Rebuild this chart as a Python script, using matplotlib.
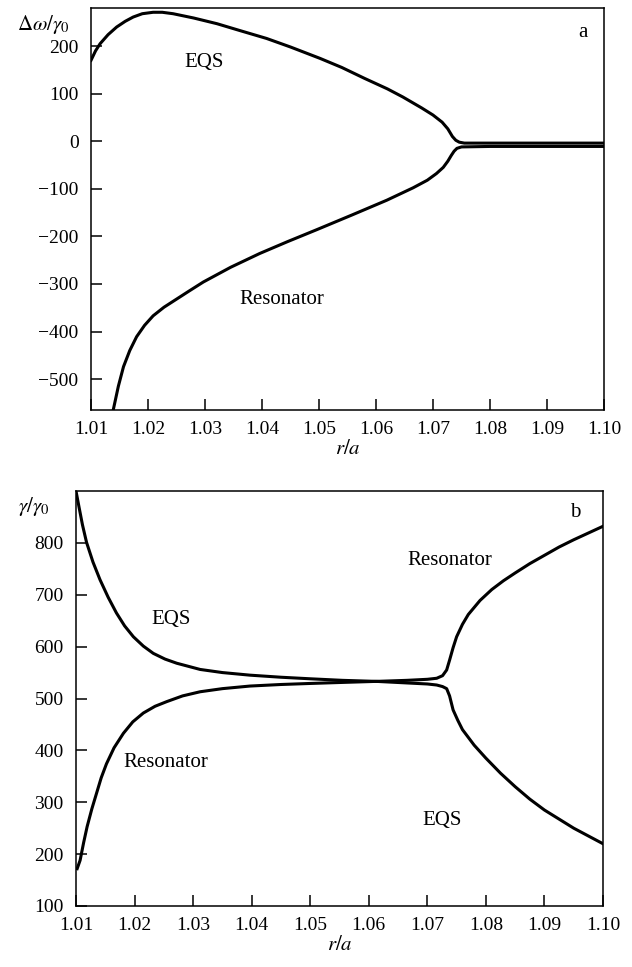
import matplotlib

matplotlib.use("Agg")
import matplotlib.pyplot as plt
from matplotlib.ticker import FormatStrFormatter

plt.rcParams["font.family"] = ["Liberation Serif", "DejaVu Serif"]
plt.rcParams["mathtext.fontset"] = "stix"

# (a) frequency shift of the two coupled modes
eqs_a_x = [1.0100, 1.0108, 1.0116, 1.0130, 1.0145, 1.0160, 1.0174, 1.0190,
           1.0209, 1.0225, 1.0244, 1.0280, 1.0321, 1.0360, 1.0408, 1.0450,
           1.0502, 1.0540, 1.0580, 1.0620, 1.0647, 1.0680, 1.0700, 1.0716,
           1.0726, 1.0734, 1.0740, 1.0746, 1.0755, 1.0800, 1.1000]
eqs_a_y = [170, 190, 205, 224, 240, 252, 261, 268,
           271, 271, 268, 259, 247, 233, 216, 198,
           174, 155, 132, 110, 93, 70, 55, 40,
           26, 10, 2, -2, -4, -4, -4]
res_a_x = [1.0135, 1.0139, 1.0148, 1.0157, 1.0168, 1.0180, 1.0194, 1.0209,
           1.0228, 1.0250, 1.0272, 1.0297, 1.0345, 1.0396, 1.0445, 1.0496,
           1.0558, 1.0619, 1.0665, 1.0690, 1.0706, 1.0718, 1.0726, 1.0732,
           1.0737, 1.0742, 1.0750, 1.0800, 1.1000]
res_a_y = [-600, -565, -515, -474, -440, -411, -387, -367,
           -349, -332, -315, -296, -265, -236, -211, -186,
           -155, -124, -98, -82, -68, -55, -42, -30,
           -21, -15, -12, -11, -11]

# (b) damping of the two coupled modes
eqs_b_x = [1.0100, 1.0105, 1.0111, 1.0118, 1.0129, 1.0141, 1.0155, 1.0169,
           1.0183, 1.0198, 1.0215, 1.0232, 1.0252, 1.0272, 1.0312, 1.0350,
           1.0397, 1.0450, 1.0500, 1.0555, 1.0613, 1.0665, 1.0700, 1.0716,
           1.0726, 1.0733, 1.0738, 1.0744, 1.0752, 1.0760, 1.0780, 1.0800,
           1.0825, 1.0850, 1.0875, 1.0900, 1.0950, 1.1000]
eqs_b_y = [900, 870, 835, 801, 763, 729, 695, 665,
           640, 619, 601, 587, 576, 568, 556, 550,
           545, 541, 538, 535, 533, 530, 528, 526,
           523, 519, 505, 478, 458, 440, 410, 385,
           356, 330, 306, 285, 250, 220]
res_b_x = [1.0102, 1.0107, 1.0113, 1.0119, 1.0127, 1.0135, 1.0143, 1.0152,
           1.0165, 1.0181, 1.0197, 1.0215, 1.0235, 1.0255, 1.0282, 1.0312,
           1.0350, 1.0397, 1.0450, 1.0500, 1.0555, 1.0613, 1.0665, 1.0700,
           1.0716, 1.0726, 1.0733, 1.0738, 1.0744, 1.0750, 1.0760, 1.0770,
           1.0790, 1.0810, 1.0830, 1.0850, 1.0875, 1.0900, 1.0925, 1.0950,
           1.0975, 1.1000]
res_b_y = [172, 188, 222, 253, 287, 317, 347, 374,
           405, 433, 455, 472, 485, 494, 505, 513,
           519, 524, 527, 529, 531, 533, 535, 537,
           539, 544, 555, 574, 598, 619, 643, 662,
           689, 710, 727, 742, 760, 776, 792, 806,
           819, 832]

x_ticks = [1.01, 1.02, 1.03, 1.04, 1.05, 1.06, 1.07, 1.08, 1.09, 1.10]
a_yticks = [-500, -400, -300, -200, -100, 0, 100, 200]
b_yticks = [100, 200, 300, 400, 500, 600, 700, 800]

W, H = 632, 967
fig = plt.figure(figsize=(W / 100, H / 100), dpi=100)


def px_axes(left, top, right, bottom):
    return fig.add_axes([left / W, 1 - bottom / H, (right - left) / W, (bottom - top) / H])


def style(ax):
    for side in ("top", "right", "left", "bottom"):
        ax.spines[side].set_linewidth(1.1)
    ax.tick_params(direction="in", length=8, width=1.1, labelsize=14,
                   top=False, right=False)
    ax.tick_params(axis="y", pad=9)
    ax.tick_params(axis="x", pad=8)
    ax.set_xlim(1.01, 1.10)
    ax.set_xticks(x_ticks)
    ax.xaxis.set_major_formatter(FormatStrFormatter("%.2f"))
    ax.set_xlabel("$r/a$", fontsize=15, labelpad=1)


lw = 2.2
ax_a = px_axes(91, 8, 604, 410)
style(ax_a)
ax_a.plot(eqs_a_x, eqs_a_y, color="black", lw=lw, solid_joinstyle="round")
ax_a.plot(res_a_x, res_a_y, color="black", lw=lw, solid_joinstyle="round")
ax_a.set_ylim(-565, 280)
ax_a.set_yticks(a_yticks)
ax_a.text(1.0298, 166, "EQS", fontsize=15, ha="center", va="center")
ax_a.text(1.0434, -332, "Resonator", fontsize=15, ha="center", va="center")
ax_a.text(0.959, 0.94, "a", transform=ax_a.transAxes, fontsize=15,
          ha="center", va="center")
ax_a.annotate(r"$\Delta\omega/\gamma_0$", xy=(0, 1), xycoords="axes fraction",
              xytext=(-15, -12), textcoords="offset points",
              fontsize=15, ha="right", va="center")

ax_b = px_axes(76, 491, 603, 906)
style(ax_b)
ax_b.plot(eqs_b_x, eqs_b_y, color="black", lw=lw, solid_joinstyle="round")
ax_b.plot(res_b_x, res_b_y, color="black", lw=lw, solid_joinstyle="round")
ax_b.set_ylim(100, 900)
ax_b.set_yticks(b_yticks)
ax_b.text(1.0263, 653, "EQS", fontsize=15, ha="center", va="center")
ax_b.text(1.0253, 376, "Resonator", fontsize=15, ha="center", va="center")
ax_b.text(1.0738, 766, "Resonator", fontsize=15, ha="center", va="center")
ax_b.text(1.0725, 265, "EQS", fontsize=15, ha="center", va="center")
ax_b.text(0.947, 0.949, "b", transform=ax_b.transAxes, fontsize=15,
          ha="center", va="center")
ax_b.annotate(r"$\gamma/\gamma_0$", xy=(0, 1), xycoords="axes fraction",
              xytext=(-19, -11), textcoords="offset points",
              fontsize=15, ha="right", va="center")

fig.savefig("out.png", dpi=100)
